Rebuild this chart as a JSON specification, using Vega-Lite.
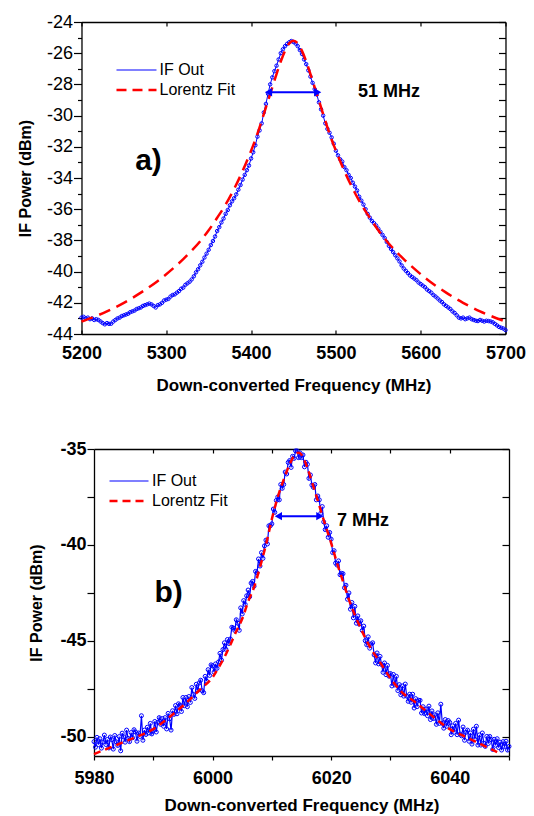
{
"$schema": "https://vega.github.io/schema/vega-lite/v6.json",
"padding": {"left": 17, "top": 13, "right": 5, "bottom": 5},
"config": {"view": {"stroke": null}, "font": "Liberation Sans",
  "axis": {"grid": false, "domainColor": "black", "tickColor": "black", "labelColor": "black", "titleColor": "black", "labelFont": "Liberation Sans", "titleFont": "Liberation Sans", "labelOverlap": false, "labelFlush": false, "domainWidth": 1.3, "tickWidth": 1.2}},
"datasets": {
"a_if": [
{"f":5200,"p":-42.95},{"f":5202.5,"p":-42.9},{"f":5205,"p":-43.0},{"f":5207.5,"p":-42.95},{"f":5210,"p":-43.05},{"f":5212.5,"p":-43.0},{"f":5215,"p":-43.1},{"f":5217.5,"p":-43.05},{"f":5220,"p":-43.1},{"f":5222.5,"p":-43.2},
{"f":5225,"p":-43.3},{"f":5227.5,"p":-43.38},{"f":5230,"p":-43.3},{"f":5232.5,"p":-43.35},{"f":5235,"p":-43.34},{"f":5237.5,"p":-43.2},{"f":5240,"p":-43.1},{"f":5242.5,"p":-43.0},{"f":5245,"p":-42.95},{"f":5247.5,"p":-42.85},
{"f":5250,"p":-42.8},{"f":5252.5,"p":-42.75},{"f":5255,"p":-42.7},{"f":5257.5,"p":-42.6},{"f":5260,"p":-42.55},{"f":5262.5,"p":-42.5},{"f":5265,"p":-42.4},{"f":5267.5,"p":-42.35},{"f":5270,"p":-42.3},{"f":5272.5,"p":-42.2},
{"f":5275,"p":-42.15},{"f":5277.5,"p":-42.1},{"f":5280,"p":-42.05},{"f":5282.5,"p":-42.1},{"f":5285,"p":-42.2},{"f":5287.5,"p":-42.3},{"f":5290,"p":-42.15},{"f":5292.5,"p":-42.1},{"f":5295,"p":-42.0},{"f":5297.5,"p":-41.85},
{"f":5300,"p":-41.8},{"f":5302.5,"p":-41.75},{"f":5305,"p":-41.6},{"f":5307.5,"p":-41.5},{"f":5310,"p":-41.46},{"f":5312.5,"p":-41.35},{"f":5315,"p":-41.25},{"f":5317.5,"p":-41.1},{"f":5320,"p":-41.03},{"f":5322.5,"p":-40.85},
{"f":5325,"p":-40.75},{"f":5327.5,"p":-40.65},{"f":5330,"p":-40.5},{"f":5332.5,"p":-40.3},{"f":5335,"p":-40.05},{"f":5337.5,"p":-39.85},{"f":5340,"p":-39.6},{"f":5342.5,"p":-39.37},{"f":5345,"p":-39.1},{"f":5347.5,"p":-38.85},
{"f":5350,"p":-38.6},{"f":5352.5,"p":-38.3},{"f":5355,"p":-38.04},{"f":5357.5,"p":-37.75},{"f":5360,"p":-37.4},{"f":5362.5,"p":-37.15},{"f":5365,"p":-36.85},{"f":5367.5,"p":-36.6},{"f":5370,"p":-36.3},{"f":5372.5,"p":-36.05},
{"f":5375,"p":-35.75},{"f":5377.5,"p":-35.5},{"f":5380,"p":-35.3},{"f":5382.5,"p":-35.05},{"f":5385,"p":-34.75},{"f":5387.5,"p":-34.45},{"f":5390,"p":-34.1},{"f":5392.5,"p":-33.8},{"f":5395,"p":-33.5},{"f":5397.5,"p":-33.2},
{"f":5400,"p":-32.75},{"f":5402.5,"p":-32.35},{"f":5405,"p":-31.9},{"f":5407.5,"p":-31.35},{"f":5410,"p":-30.95},{"f":5412.5,"p":-30.5},{"f":5415,"p":-29.8},{"f":5417.5,"p":-29.25},{"f":5420,"p":-28.6},{"f":5422.5,"p":-28.0},
{"f":5425,"p":-27.55},{"f":5427.5,"p":-27.15},{"f":5430,"p":-26.8},{"f":5432.5,"p":-26.4},{"f":5435,"p":-26.0},{"f":5437.5,"p":-25.75},{"f":5440,"p":-25.55},{"f":5442.5,"p":-25.4},{"f":5445,"p":-25.3},{"f":5447.5,"p":-25.22},
{"f":5450,"p":-25.28},{"f":5452.5,"p":-25.38},{"f":5455,"p":-25.55},{"f":5457.5,"p":-25.8},{"f":5460,"p":-26.05},{"f":5462.5,"p":-26.4},{"f":5465,"p":-26.7},{"f":5467.5,"p":-27.1},{"f":5470,"p":-27.5},{"f":5472.5,"p":-27.9},
{"f":5475,"p":-28.3},{"f":5477.5,"p":-28.65},{"f":5480,"p":-29.15},{"f":5482.5,"p":-29.6},{"f":5485,"p":-30.0},{"f":5487.5,"p":-30.5},{"f":5490,"p":-30.85},{"f":5492.5,"p":-31.1},{"f":5495,"p":-31.4},{"f":5497.5,"p":-31.8},
{"f":5500,"p":-32.25},{"f":5502.5,"p":-32.55},{"f":5505,"p":-32.8},{"f":5507.5,"p":-32.95},{"f":5510,"p":-33.3},{"f":5512.5,"p":-33.5},{"f":5515,"p":-33.8},{"f":5517.5,"p":-34.0},{"f":5520,"p":-34.3},{"f":5522.5,"p":-34.55},
{"f":5525,"p":-34.8},{"f":5527.5,"p":-35.2},{"f":5530,"p":-35.45},{"f":5532.5,"p":-35.7},{"f":5535,"p":-36.0},{"f":5537.5,"p":-36.3},{"f":5540,"p":-36.54},{"f":5542.5,"p":-36.75},{"f":5545,"p":-36.9},{"f":5547.5,"p":-37.05},
{"f":5550,"p":-37.25},{"f":5552.5,"p":-37.45},{"f":5555,"p":-37.65},{"f":5557.5,"p":-37.85},{"f":5560,"p":-38.1},{"f":5562.5,"p":-38.35},{"f":5565,"p":-38.55},{"f":5567.5,"p":-38.75},{"f":5570,"p":-38.95},{"f":5572.5,"p":-39.15},
{"f":5575,"p":-39.35},{"f":5577.5,"p":-39.6},{"f":5580,"p":-39.8},{"f":5582.5,"p":-39.95},{"f":5585,"p":-40.1},{"f":5587.5,"p":-40.25},{"f":5590,"p":-40.35},{"f":5592.5,"p":-40.45},{"f":5595,"p":-40.55},{"f":5597.5,"p":-40.7},
{"f":5600,"p":-40.8},{"f":5602.5,"p":-40.9},{"f":5605,"p":-41.0},{"f":5607.5,"p":-41.15},{"f":5610,"p":-41.25},{"f":5612.5,"p":-41.35},{"f":5615,"p":-41.5},{"f":5617.5,"p":-41.6},{"f":5620,"p":-41.72},{"f":5622.5,"p":-41.85},
{"f":5625,"p":-41.95},{"f":5627.5,"p":-42.1},{"f":5630,"p":-42.2},{"f":5632.5,"p":-42.3},{"f":5635,"p":-42.4},{"f":5637.5,"p":-42.55},{"f":5640,"p":-42.65},{"f":5642.5,"p":-42.8},{"f":5645,"p":-42.95},{"f":5647.5,"p":-43.0},
{"f":5650,"p":-42.95},{"f":5652.5,"p":-43.05},{"f":5655,"p":-43.0},{"f":5657.5,"p":-42.95},{"f":5660,"p":-43.05},{"f":5662.5,"p":-43.1},{"f":5665,"p":-43.15},{"f":5667.5,"p":-43.17},{"f":5670,"p":-43.1},{"f":5672.5,"p":-43.15},
{"f":5675,"p":-43.2},{"f":5677.5,"p":-43.15},{"f":5680,"p":-43.17},{"f":5682.5,"p":-43.2},{"f":5685,"p":-43.25},{"f":5687.5,"p":-43.35},{"f":5690,"p":-43.45},{"f":5692.5,"p":-43.55},{"f":5695,"p":-43.6},{"f":5697.5,"p":-43.65},
{"f":5700,"p":-43.75}],
"a_fit": [
{"f":5200,"p":-43.2},{"f":5230,"p":-42.55},{"f":5250,"p":-42.0},{"f":5270,"p":-41.35},{"f":5290,"p":-40.6},{"f":5310,"p":-39.7},{"f":5320,"p":-39.2},{"f":5330,"p":-38.65},{"f":5340,"p":-38.05},{"f":5350,"p":-37.35},
{"f":5360,"p":-36.55},{"f":5370,"p":-35.7},{"f":5380,"p":-34.7},{"f":5390,"p":-33.55},{"f":5400,"p":-32.25},{"f":5405,"p":-31.55},{"f":5410,"p":-30.75},{"f":5415,"p":-29.9},{"f":5420,"p":-29.04},{"f":5425,"p":-28.19},
{"f":5430,"p":-27.34},{"f":5435,"p":-26.53},{"f":5440,"p":-25.85},{"f":5445,"p":-25.37},{"f":5450,"p":-25.2},{"f":5455,"p":-25.37},{"f":5460,"p":-25.85},{"f":5465,"p":-26.53},{"f":5470,"p":-27.34},{"f":5475,"p":-28.19},
{"f":5480,"p":-29.04},{"f":5485,"p":-29.9},{"f":5490,"p":-30.75},{"f":5495,"p":-31.55},{"f":5500,"p":-32.25},{"f":5510,"p":-33.55},{"f":5520,"p":-34.7},{"f":5530,"p":-35.7},{"f":5540,"p":-36.55},{"f":5550,"p":-37.35},
{"f":5560,"p":-38.05},{"f":5570,"p":-38.65},{"f":5580,"p":-39.2},{"f":5590,"p":-39.7},{"f":5610,"p":-40.6},{"f":5630,"p":-41.35},{"f":5650,"p":-42.0},{"f":5670,"p":-42.55},{"f":5700,"p":-43.2}],
"b_if": [
{"f":5980,"p":-50.25},{"f":5980.25,"p":-50.54},{"f":5980.5,"p":-50.03},{"f":5980.75,"p":-50.41},
{"f":5981,"p":-50.1},{"f":5981.25,"p":-50.59},{"f":5981.5,"p":-50.28},{"f":5981.75,"p":-49.91},
{"f":5982,"p":-50.4},{"f":5982.25,"p":-50.14},{"f":5982.5,"p":-50.58},{"f":5982.75,"p":-50.01},
{"f":5983,"p":-50.15},{"f":5983.25,"p":-50.64},{"f":5983.5,"p":-49.93},{"f":5983.75,"p":-50.26},
{"f":5984,"p":-50.45},{"f":5984.25,"p":-49.99},{"f":5984.5,"p":-50.73},{"f":5984.75,"p":-49.81},
{"f":5985,"p":-50.0},{"f":5985.25,"p":-50.28},{"f":5985.5,"p":-49.65},{"f":5985.75,"p":-50.08},
{"f":5986,"p":-50.25},{"f":5986.25,"p":-49.78},{"f":5986.5,"p":-50.05},{"f":5986.75,"p":-49.63},
{"f":5987,"p":-49.75},{"f":5987.25,"p":-50.23},{"f":5987.5,"p":-49.8},{"f":5987.75,"p":-49.98},
{"f":5988,"p":-48.9},{"f":5988.25,"p":-50.18},{"f":5988.5,"p":-49.65},{"f":5988.75,"p":-49.88},
{"f":5989,"p":-49.5},{"f":5989.25,"p":-49.8},{"f":5989.5,"p":-49.3},{"f":5989.75,"p":-49.85},
{"f":5990,"p":-49.7},{"f":5990.25,"p":-49.2},{"f":5990.5,"p":-49.75},{"f":5990.75,"p":-49.25},
{"f":5991,"p":-49.0},{"f":5991.25,"p":-49.35},{"f":5991.5,"p":-49.05},{"f":5991.75,"p":-49.45},
{"f":5992,"p":-49.0},{"f":5992.25,"p":-49.59},{"f":5992.5,"p":-48.78},{"f":5992.75,"p":-49.06},
{"f":5993,"p":-49.65},{"f":5993.25,"p":-48.64},{"f":5993.5,"p":-48.83},{"f":5993.75,"p":-48.37},
{"f":5994,"p":-48.8},{"f":5994.25,"p":-48.28},{"f":5994.5,"p":-48.35},{"f":5994.75,"p":-48.68},
{"f":5995,"p":-47.95},{"f":5995.25,"p":-48.38},{"f":5995.5,"p":-47.95},{"f":5995.75,"p":-48.43},
{"f":5996,"p":-47.9},{"f":5996.25,"p":-48.21},{"f":5996.5,"p":-47.43},{"f":5996.75,"p":-47.79},
{"f":5997,"p":-48.0},{"f":5997.25,"p":-47.26},{"f":5997.5,"p":-47.58},{"f":5997.75,"p":-47.19},
{"f":5998,"p":-47.05},{"f":5998.25,"p":-47.6},{"f":5998.5,"p":-47.7},{"f":5998.75,"p":-46.85},
{"f":5999,"p":-47.1},{"f":5999.25,"p":-46.5},{"f":5999.5,"p":-46.8},{"f":5999.75,"p":-46.25},
{"f":6000,"p":-46.3},{"f":6000.25,"p":-46.63},{"f":6000.5,"p":-46.2},{"f":6000.75,"p":-46.43},
{"f":6001,"p":-46.1},{"f":6001.25,"p":-45.65},{"f":6001.5,"p":-46.0},{"f":6001.75,"p":-45.45},
{"f":6002,"p":-45.1},{"f":6002.25,"p":-45.44},{"f":6002.5,"p":-44.93},{"f":6002.75,"p":-45.14},
{"f":6003,"p":-44.9},{"f":6003.25,"p":-44.29},{"f":6003.5,"p":-44.33},{"f":6003.75,"p":-44.46},
{"f":6004,"p":-43.9},{"f":6004.25,"p":-44.08},{"f":6004.5,"p":-44.45},{"f":6004.75,"p":-43.28},
{"f":6005,"p":-43.6},{"f":6005.25,"p":-42.9},{"f":6005.5,"p":-43.1},{"f":6005.75,"p":-42.65},
{"f":6006,"p":-42.35},{"f":6006.25,"p":-42.7},{"f":6006.5,"p":-41.99},{"f":6006.75,"p":-41.9},
{"f":6007,"p":-42.15},{"f":6007.25,"p":-41.38},{"f":6007.5,"p":-41.45},{"f":6007.75,"p":-40.73},
{"f":6008,"p":-41.1},{"f":6008.25,"p":-40.4},{"f":6008.5,"p":-40.7},{"f":6008.75,"p":-40.05},
{"f":6009,"p":-39.75},{"f":6009.25,"p":-39.95},{"f":6009.5,"p":-39.0},{"f":6009.75,"p":-39.0},
{"f":6010,"p":-38.9},{"f":6010.25,"p":-38.13},{"f":6010.5,"p":-38.3},{"f":6010.75,"p":-37.68},
{"f":6011,"p":-37.5},{"f":6011.25,"p":-37.65},{"f":6011.5,"p":-36.85},{"f":6011.75,"p":-37.05},
{"f":6012,"p":-36.85},{"f":6012.25,"p":-36.2},{"f":6012.5,"p":-36.3},{"f":6012.75,"p":-35.7},
{"f":6013,"p":-35.6},{"f":6013.25,"p":-35.96},{"f":6013.5,"p":-35.38},{"f":6013.75,"p":-35.49},
{"f":6014,"p":-35.1},{"f":6014.25,"p":-35.1},{"f":6014.5,"p":-35.45},{"f":6014.75,"p":-35.2},
{"f":6015,"p":-35.45},{"f":6015.25,"p":-35.31},{"f":6015.5,"p":-35.93},{"f":6015.75,"p":-35.69},
{"f":6016,"p":-35.8},{"f":6016.25,"p":-36.53},{"f":6016.5,"p":-36.35},{"f":6016.75,"p":-36.88},
{"f":6017,"p":-37.0},{"f":6017.25,"p":-36.85},{"f":6017.5,"p":-37.65},{"f":6017.75,"p":-37.45},
{"f":6018,"p":-37.65},{"f":6018.25,"p":-38.35},{"f":6018.5,"p":-38.0},{"f":6018.75,"p":-38.8},
{"f":6019,"p":-39.2},{"f":6019.25,"p":-39.0},{"f":6019.5,"p":-39.6},{"f":6019.75,"p":-39.35},
{"f":6020,"p":-39.7},{"f":6020.25,"p":-40.4},{"f":6020.5,"p":-40.3},{"f":6020.75,"p":-40.95},
{"f":6021,"p":-41.05},{"f":6021.25,"p":-40.83},{"f":6021.5,"p":-41.55},{"f":6021.75,"p":-41.48},
{"f":6022,"p":-41.5},{"f":6022.25,"p":-42.23},{"f":6022.5,"p":-42.1},{"f":6022.75,"p":-42.83},
{"f":6023,"p":-42.5},{"f":6023.25,"p":-43.35},{"f":6023.5,"p":-43.0},{"f":6023.75,"p":-43.8},
{"f":6024,"p":-43.2},{"f":6024.25,"p":-44.08},{"f":6024.5,"p":-43.7},{"f":6024.75,"p":-44.13},
{"f":6025,"p":-43.95},{"f":6025.25,"p":-44.46},{"f":6025.5,"p":-44.23},{"f":6025.75,"p":-44.99},
{"f":6026,"p":-45.2},{"f":6026.25,"p":-44.79},{"f":6026.5,"p":-45.38},{"f":6026.75,"p":-45.16},
{"f":6027,"p":-45.1},{"f":6027.25,"p":-45.73},{"f":6027.5,"p":-46.15},{"f":6027.75,"p":-45.63},
{"f":6028,"p":-46.2},{"f":6028.25,"p":-45.81},{"f":6028.5,"p":-46.23},{"f":6028.75,"p":-46.64},
{"f":6029,"p":-46.15},{"f":6029.25,"p":-46.76},{"f":6029.5,"p":-46.28},{"f":6029.75,"p":-46.84},
{"f":6030,"p":-46.7},{"f":6030.25,"p":-47.35},{"f":6030.5,"p":-46.75},{"f":6030.75,"p":-47.3},
{"f":6031,"p":-46.85},{"f":6031.25,"p":-47.59},{"f":6031.5,"p":-47.28},{"f":6031.75,"p":-47.81},
{"f":6032,"p":-47.35},{"f":6032.25,"p":-47.88},{"f":6032.5,"p":-47.25},{"f":6032.75,"p":-47.88},
{"f":6033,"p":-48.15},{"f":6033.25,"p":-47.78},{"f":6033.5,"p":-48.2},{"f":6033.75,"p":-47.78},
{"f":6034,"p":-48.5},{"f":6034.25,"p":-48.01},{"f":6034.5,"p":-48.43},{"f":6034.75,"p":-48.09},
{"f":6035,"p":-48.1},{"f":6035.25,"p":-48.76},{"f":6035.5,"p":-48.43},{"f":6035.75,"p":-48.79},
{"f":6036,"p":-48.55},{"f":6036.25,"p":-48.9},{"f":6036.5,"p":-48.4},{"f":6036.75,"p":-49.1},
{"f":6037,"p":-48.65},{"f":6037.25,"p":-49.05},{"f":6037.5,"p":-48.85},{"f":6037.75,"p":-49.35},
{"f":6038,"p":-48.75},{"f":6038.25,"p":-49.3},{"f":6038.5,"p":-48.3},{"f":6038.75,"p":-49.3},
{"f":6039,"p":-49.55},{"f":6039.25,"p":-49.1},{"f":6039.5,"p":-49.45},{"f":6039.75,"p":-49.15},
{"f":6040,"p":-49.25},{"f":6040.25,"p":-49.89},{"f":6040.5,"p":-49.43},{"f":6040.75,"p":-49.76},
{"f":6041,"p":-49.3},{"f":6041.25,"p":-49.89},{"f":6041.5,"p":-49.13},{"f":6041.75,"p":-49.86},
{"f":6042,"p":-49.95},{"f":6042.25,"p":-49.49},{"f":6042.5,"p":-50.18},{"f":6042.75,"p":-49.76},
{"f":6043,"p":-49.65},{"f":6043.25,"p":-50.23},{"f":6043.5,"p":-49.8},{"f":6043.75,"p":-50.38},
{"f":6044,"p":-49.6},{"f":6044.25,"p":-50.13},{"f":6044.5,"p":-49.45},{"f":6044.75,"p":-50.43},
{"f":6045,"p":-49.9},{"f":6045.25,"p":-50.43},{"f":6045.5,"p":-49.8},{"f":6045.75,"p":-50.33},
{"f":6046,"p":-50.5},{"f":6046.25,"p":-49.98},{"f":6046.5,"p":-50.35},{"f":6046.75,"p":-49.98},
{"f":6047,"p":-50.15},{"f":6047.25,"p":-50.66},{"f":6047.5,"p":-50.13},{"f":6047.75,"p":-50.44},
{"f":6048,"p":-50.1},{"f":6048.25,"p":-50.56},{"f":6048.5,"p":-50.28},{"f":6048.75,"p":-50.69},
{"f":6049,"p":-50.25},{"f":6049.25,"p":-50.51},{"f":6049.5,"p":-50.23},{"f":6049.75,"p":-50.69},
{"f":6050,"p":-50.5}],
"b_fit": [
{"f":5980,"p":-50.9},{"f":5982,"p":-50.65},{"f":5984,"p":-50.4},{"f":5986,"p":-50.15},{"f":5988,"p":-49.9},{"f":5990,"p":-49.6},{"f":5992,"p":-49.15},{"f":5994,"p":-48.65},{"f":5996,"p":-48.1},{"f":5998,"p":-47.5},
{"f":6000,"p":-46.9},{"f":6001,"p":-46.4},{"f":6002,"p":-45.85},{"f":6003,"p":-45.2},{"f":6004,"p":-44.5},{"f":6005,"p":-43.85},{"f":6006,"p":-42.95},{"f":6007,"p":-42.2},{"f":6008,"p":-41.15},{"f":6009,"p":-40.0},
{"f":6010,"p":-38.65},{"f":6011,"p":-37.5},{"f":6012,"p":-36.6},{"f":6013,"p":-35.8},{"f":6014,"p":-35.25},{"f":6014.5,"p":-35.2},{"f":6015,"p":-35.3},{"f":6016,"p":-36.0},{"f":6017,"p":-36.95},{"f":6018,"p":-37.95},
{"f":6019,"p":-38.95},{"f":6020,"p":-39.9},{"f":6021,"p":-40.95},{"f":6022,"p":-41.9},{"f":6023,"p":-42.85},{"f":6024,"p":-43.65},{"f":6025,"p":-44.35},{"f":6026,"p":-45.0},{"f":6027,"p":-45.55},{"f":6028,"p":-46.0},
{"f":6030,"p":-46.95},{"f":6032,"p":-47.7},{"f":6034,"p":-48.15},{"f":6036,"p":-48.65},{"f":6038,"p":-49.15},{"f":6040,"p":-49.6},{"f":6042,"p":-49.9},{"f":6044,"p":-50.2},{"f":6046,"p":-50.5},{"f":6048,"p":-50.8}]
},
"vconcat": [
{
"width": 424, "height": 312,
"layer": [
 {"data": {"name": "a_if"},
  "mark": {"type": "line", "strokeWidth": 1, "point": {"filled": false, "size": 12, "strokeWidth": 1}},
  "encoding": {
   "x": {"field": "f", "type": "quantitative", "scale": {"domain": [5200, 5700], "nice": false, "zero": false},
     "axis": {"orient": "bottom", "values": [5200, 5300, 5400, 5500, 5600, 5700], "labelExpr": "'' + datum.value", "tickSize": -4, "labelPadding": 14, "labelFontSize": 18, "labelFontWeight": "bold", "title": "Down-converted Frequency (MHz)", "titleFontSize": 17, "titleFontWeight": "bold", "titlePadding": 15}},
   "y": {"field": "p", "type": "quantitative", "scale": {"domain": [-44, -24], "nice": false, "zero": false},
     "axis": {"orient": "left", "values": [-44,-43,-42,-41,-40,-39,-38,-37,-36,-35,-34,-33,-32,-31,-30,-29,-28,-27,-26,-25,-24], "labelExpr": "datum.value % 2 === 0 ? '' + datum.value : ''", "tickSize": {"condition": {"test": "datum.value % 2 === 0", "value": 8}, "value": 4}, "labelPadding": 1, "labelFontSize": 18, "title": "IF Power (dBm)", "titleFontSize": 16, "titleFontWeight": "bold", "titlePadding": 13}},
   "color": {"datum": "IF Out", "type": "nominal", "scale": {"domain": ["IF Out", "Lorentz Fit"], "range": ["#0000ff", "#ff0000"]},
     "legend": {"orient": "none", "legendX": 47, "legendY": 40, "title": null, "symbolType": "stroke", "symbolSize": 1600, "symbolStrokeWidth": 1.2, "labelFontSize": 16, "labelFont": "Liberation Sans", "labelColor": "black", "labelOffset": 15, "rowPadding": 4,
       "encode": {"symbols": {"update": {"strokeDash": {"signal": "datum.value === 'Lorentz Fit' ? [10, 6] : [1, 0]"}, "strokeWidth": {"signal": "datum.value === 'Lorentz Fit' ? 2.5 : 1.2"}}}}}}
  }},
 {"data": {"name": "a_fit"},
  "mark": {"type": "line", "strokeWidth": 2.5, "strokeDash": [12, 7], "interpolate": "monotone"},
  "encoding": {
   "x": {"field": "f", "type": "quantitative", "axis": {"orient": "top", "values": [5200, 5300, 5400, 5500, 5600, 5700], "tickSize": -4, "labels": false, "title": null}},
   "y": {"field": "p", "type": "quantitative", "axis": {"orient": "right", "values": [-44,-43,-42,-41,-40,-39,-38,-37,-36,-35,-34,-33,-32,-31,-30,-29,-28,-27,-26,-25,-24], "tickSize": -7, "labels": false, "title": null}},
   "color": {"datum": "Lorentz Fit", "type": "nominal"}
  }},
 {"data": {"values": [{"f1": 5420, "f2": 5479, "p": -28.5}]},
  "mark": {"type": "rule", "color": "#0000ff", "strokeWidth": 2},
  "encoding": {"x": {"field": "f1", "type": "quantitative", "axis": null}, "x2": {"field": "f2"}, "y": {"field": "p", "type": "quantitative", "axis": null}}},
 {"data": {"values": [{"f": 5420.5, "p": -28.5, "end": "left"}, {"f": 5478.5, "p": -28.5, "end": "right"}]},
  "mark": {"type": "point", "filled": true, "color": "#0000ff", "size": 70, "opacity": 1},
  "encoding": {"x": {"field": "f", "type": "quantitative", "axis": null}, "y": {"field": "p", "type": "quantitative", "axis": null},
   "shape": {"field": "end", "type": "nominal", "scale": {"domain": ["left", "right"], "range": ["triangle-left", "triangle-right"]}, "legend": null}}},
 {"data": {"values": [{"t": "51 MHz", "f": 5526, "p": -28.5}]},
  "mark": {"type": "text", "align": "left", "baseline": "middle", "fontSize": 18, "fontWeight": "bold", "font": "Liberation Sans", "color": "black"},
  "encoding": {"x": {"field": "f", "type": "quantitative", "axis": null}, "y": {"field": "p", "type": "quantitative", "axis": null}, "text": {"field": "t"}}},
 {"data": {"values": [{"t": "a)", "f": 5279, "p": -32.9}]},
  "mark": {"type": "text", "align": "center", "baseline": "middle", "fontSize": 30, "fontWeight": "bold", "font": "Liberation Sans", "color": "black"},
  "encoding": {"x": {"field": "f", "type": "quantitative", "axis": null}, "y": {"field": "p", "type": "quantitative", "axis": null}, "text": {"field": "t"}}}
],
"resolve": {"axis": {"x": "independent", "y": "independent"}}
},
{
"width": 415, "height": 307,
"layer": [
 {"data": {"name": "b_if"},
  "mark": {"type": "line", "strokeWidth": 1.2, "point": {"filled": false, "size": 16, "strokeWidth": 1}},
  "encoding": {
   "x": {"field": "f", "type": "quantitative", "scale": {"domain": [5980, 6050], "nice": false, "zero": false},
     "axis": {"orient": "bottom", "values": [5980, 5990, 6000, 6010, 6020, 6030, 6040, 6050], "labelExpr": "datum.value % 20 === 0 ? '' + datum.value : ''", "tickSize": 4, "labelPadding": 9, "labelFontSize": 18, "labelFontWeight": "bold", "title": "Down-converted Frequency (MHz)", "titleFontSize": 17, "titleFontWeight": "bold", "titlePadding": 10}},
   "y": {"field": "p", "type": "quantitative", "scale": {"domain": [-51, -35], "nice": false, "zero": false},
     "axis": {"orient": "left", "values": [-50, -47.5, -45, -42.5, -40, -37.5, -35], "labelExpr": "datum.value % 5 === 0 ? '' + datum.value : ''", "tickSize": 7, "labelPadding": 1, "labelFontSize": 18, "labelFontWeight": "bold", "title": "IF Power (dBm)", "titleFontSize": 16, "titleFontWeight": "bold", "titlePadding": 15}},
   "color": {"datum": "IF Out", "type": "nominal", "scale": {"domain": ["IF Out", "Lorentz Fit"], "range": ["#0000ff", "#ff0000"]},
     "legend": {"orient": "none", "legendX": 27, "legendY": 24, "title": null, "symbolType": "stroke", "symbolSize": 1521, "symbolStrokeWidth": 1.2, "labelFontSize": 16, "labelFont": "Liberation Sans", "labelColor": "black", "labelOffset": 15, "rowPadding": 4,
       "encode": {"symbols": {"update": {"strokeDash": {"signal": "datum.value === 'Lorentz Fit' ? [8, 5] : [1, 0]"}, "strokeWidth": {"signal": "datum.value === 'Lorentz Fit' ? 2.5 : 1.2"}}}}}}
  }},
 {"data": {"name": "b_fit"},
  "mark": {"type": "line", "strokeWidth": 2.5, "strokeDash": [7, 5], "interpolate": "monotone"},
  "encoding": {
   "x": {"field": "f", "type": "quantitative", "axis": {"orient": "top", "values": [5990, 6000, 6010, 6020, 6030, 6040], "tickSize": -4, "labels": false, "title": null}},
   "y": {"field": "p", "type": "quantitative", "axis": {"orient": "right", "values": [-50, -47.5, -45, -42.5, -40, -37.5, -35], "tickSize": -7, "labels": false, "title": null}},
   "color": {"datum": "Lorentz Fit", "type": "nominal"}
  }},
 {"data": {"values": [{"f1": 6011.3, "f2": 6017.9, "p": -38.5}]},
  "mark": {"type": "rule", "color": "#0000ff", "strokeWidth": 2},
  "encoding": {"x": {"field": "f1", "type": "quantitative", "axis": null}, "x2": {"field": "f2"}, "y": {"field": "p", "type": "quantitative", "axis": null}}},
 {"data": {"values": [{"f": 6011.1, "p": -38.5, "end": "left"}, {"f": 6018.1, "p": -38.5, "end": "right"}]},
  "mark": {"type": "point", "filled": true, "color": "#0000ff", "size": 70, "opacity": 1},
  "encoding": {"x": {"field": "f", "type": "quantitative", "axis": null}, "y": {"field": "p", "type": "quantitative", "axis": null},
   "shape": {"field": "end", "type": "nominal", "scale": {"domain": ["left", "right"], "range": ["triangle-left", "triangle-right"]}, "legend": null}}},
 {"data": {"values": [{"t": "7 MHz", "f": 6021, "p": -38.75}]},
  "mark": {"type": "text", "align": "left", "baseline": "middle", "fontSize": 18, "fontWeight": "bold", "font": "Liberation Sans", "color": "black"},
  "encoding": {"x": {"field": "f", "type": "quantitative", "axis": null}, "y": {"field": "p", "type": "quantitative", "axis": null}, "text": {"field": "t"}}},
 {"data": {"values": [{"t": "b)", "f": 5992.6, "p": -42.5}]},
  "mark": {"type": "text", "align": "center", "baseline": "middle", "fontSize": 30, "fontWeight": "bold", "font": "Liberation Sans", "color": "black"},
  "encoding": {"x": {"field": "f", "type": "quantitative", "axis": null}, "y": {"field": "p", "type": "quantitative", "axis": null}, "text": {"field": "t"}}}
],
"resolve": {"axis": {"x": "independent", "y": "independent"}}
}
],
"center": true,
"spacing": 47,
"resolve": {"scale": {"color": "independent", "shape": "independent"}, "legend": {"color": "independent", "shape": "independent"}}
}
